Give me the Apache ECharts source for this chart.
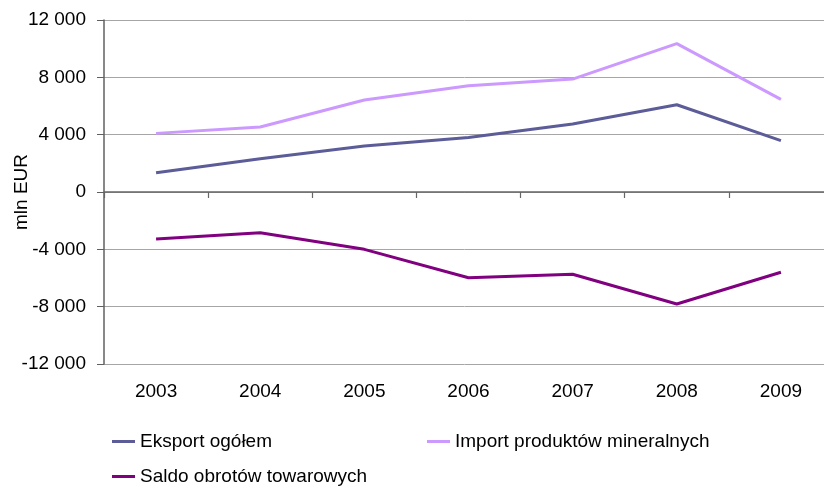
<!DOCTYPE html>
<html>
<head>
<meta charset="utf-8">
<script src="https://cdn.jsdelivr.net/npm/echarts@6/dist/echarts.min.js"></script>
<style>html,body{margin:0;padding:0;background:#fff}#c{width:824px;height:487px}</style>
</head>
<body>
<div id="c"></div>
<script>
const categories = ['2003','2004','2005','2006','2007','2008','2009'];
const eksport = [1350, 2320, 3210, 3810, 4740, 6090, 3580];
const importMin = [4090, 4530, 6420, 7420, 7880, 10350, 6460];
const saldo = [-3280, -2840, -4000, -5980, -5740, -7810, -5600];
const seriesNames = ['Eksport ogółem', 'Import produktów mineralnych', 'Saldo obrotów towarowych'];
const colors = ['#5c5c99', '#cc99ff', '#800080'];

const font = 'Liberation Sans, Arial, sans-serif';
const fs = 19;
function fmt(v){
  const s = Math.abs(v).toString().replace(/\B(?=(\d{3})+(?!\d))/g, ' ');
  return (v < 0 ? '-' : '') + s;
}
const chart = echarts.init(document.getElementById('c'));
const legendBase = {
  icon: 'rect', itemWidth: 23, itemHeight: 3, itemGap: 5, padding: 0,
  textStyle: { fontFamily: font, fontSize: fs, color: '#000' },
  selectedMode: false
};
chart.setOption({
  animation: false,
  textStyle: { fontFamily: font },
  grid: { left: 104, top: 20, right: -9, bottom: 123, containLabel: false, outerBoundsMode: 'none' },
  legend: [
    Object.assign({ data: [seriesNames[0]], left: 112, top: 432 }, legendBase),
    Object.assign({ data: [seriesNames[1]], left: 427, top: 432 }, legendBase),
    Object.assign({ data: [seriesNames[2]], left: 112, top: 467 }, legendBase)
  ],
  xAxis: [
    {
      type: 'category', data: categories, position: 'bottom', boundaryGap: true,
      axisLine: { show: false, onZero: false },
      axisTick: { show: false },
      axisLabel: { fontSize: fs, color: '#000', margin: 18, fontFamily: font },
      splitLine: { show: false }
    },
    {
      type: 'category', data: categories, position: 'bottom', boundaryGap: true,
      axisLine: { show: true, onZero: true, lineStyle: { color: '#666666', width: 1.5 } },
      axisTick: { show: true, length: 6, lineStyle: { color: '#666666', width: 1.2 } },
      axisLabel: { show: false },
      splitLine: { show: false }
    }
  ],
  yAxis: {
    type: 'value', min: -12000, max: 12000, interval: 4000,
    name: 'mln EUR', nameLocation: 'middle', nameRotate: 90, nameGap: 73, nameMoveOverlap: false,
    nameTextStyle: { fontSize: fs, color: '#000', fontFamily: font },
    axisLine: { show: true, lineStyle: { color: '#606060', width: 1.5 } },
    axisTick: { show: true, length: 7, lineStyle: { color: '#606060' } },
    axisLabel: { fontSize: fs, color: '#000', margin: 18, formatter: fmt, fontFamily: font },
    splitLine: { show: true, lineStyle: { color: '#a6a6a6', width: 1 } }
  },
  series: [
    { name: seriesNames[0], type: 'line', data: eksport, symbol: 'none', lineStyle: { width: 3, color: colors[0] }, itemStyle: { color: colors[0] } },
    { name: seriesNames[1], type: 'line', data: importMin, symbol: 'none', lineStyle: { width: 3, color: colors[1] }, itemStyle: { color: colors[1] } },
    { name: seriesNames[2], type: 'line', data: saldo, symbol: 'none', lineStyle: { width: 3, color: colors[2] }, itemStyle: { color: colors[2] } }
  ]
});
</script>
</body>
</html>
